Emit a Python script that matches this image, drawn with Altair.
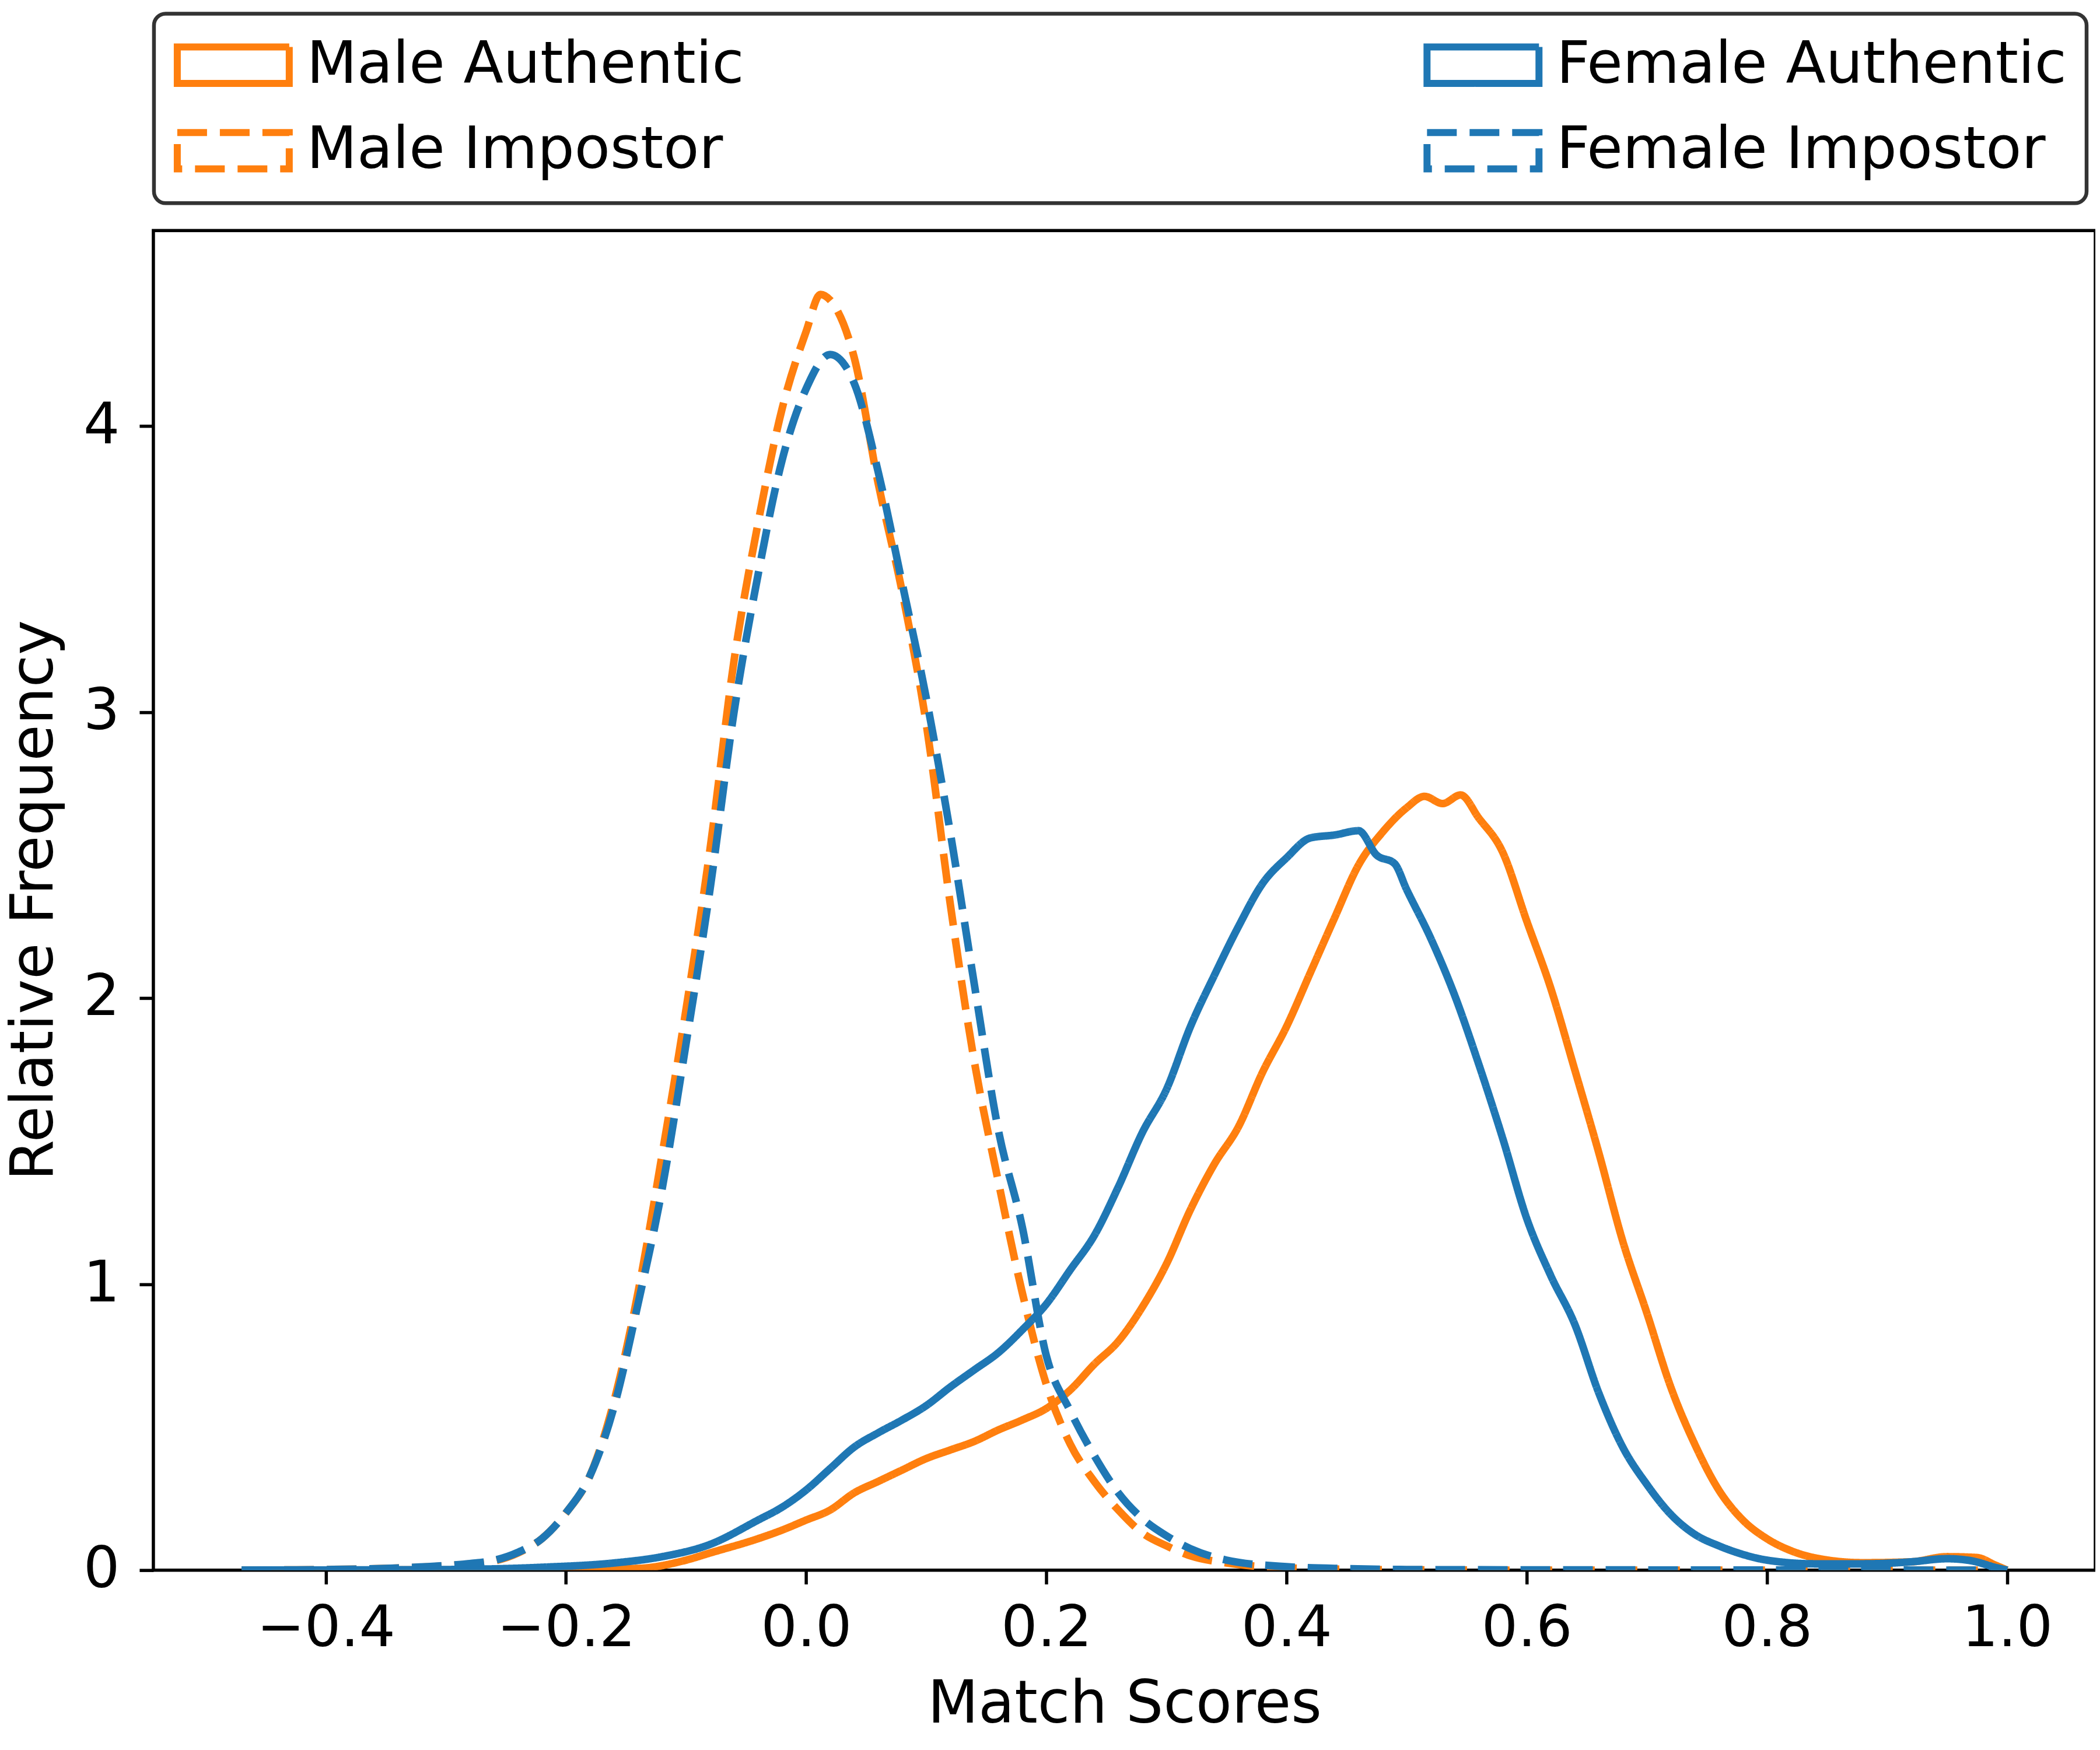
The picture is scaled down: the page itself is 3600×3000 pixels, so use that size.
import altair as alt
import pandas as pd

# ---- data (x = match score, y = relative frequency) ----
male_auth_x = [-0.47, -0.20, -0.14, -0.10, -0.08, -0.04, -0.02, 0.00, 0.02, 0.04, 0.06, 0.08,
               0.10, 0.12, 0.14, 0.16, 0.18, 0.20, 0.22, 0.24, 0.26, 0.28, 0.30, 0.32, 0.34,
               0.36, 0.38, 0.40, 0.42, 0.44, 0.46, 0.48, 0.50, 0.515, 0.53, 0.545, 0.56, 0.58,
               0.60, 0.62, 0.64, 0.66, 0.68, 0.70, 0.72, 0.74, 0.76, 0.78, 0.80, 0.82, 0.84,
               0.88, 0.92, 0.95, 0.975, 0.99, 1.00]
male_auth_y = [0.0, 0.002, 0.006, 0.035, 0.06, 0.11, 0.14, 0.175, 0.21, 0.27, 0.31, 0.35,
               0.39, 0.42, 0.45, 0.49, 0.525, 0.565, 0.63, 0.72, 0.80, 0.92, 1.07, 1.26, 1.42,
               1.55, 1.74, 1.90, 2.09, 2.28, 2.465, 2.58, 2.665, 2.705, 2.68, 2.71, 2.63, 2.51,
               2.27, 2.035, 1.75, 1.46, 1.15, 0.90, 0.64, 0.44, 0.28, 0.175, 0.11, 0.068, 0.043,
               0.026, 0.029, 0.047, 0.044, 0.018, 0.0]

male_imp_x = [-0.47, -0.40, -0.35, -0.30, -0.28, -0.26, -0.24, -0.22, -0.20, -0.18, -0.16, -0.14,
              -0.12, -0.10, -0.08, -0.06, -0.04, -0.02, 0.00, 0.012, 0.02, 0.04, 0.06, 0.08,
              0.10, 0.12, 0.14, 0.16, 0.18, 0.20, 0.22, 0.24, 0.26, 0.28, 0.30, 0.32, 0.35,
              0.40, 0.45, 0.50, 0.60, 1.00]
male_imp_y = [0.0, 0.002, 0.006, 0.015, 0.022, 0.032, 0.06, 0.11, 0.20, 0.33, 0.59, 0.97,
              1.45, 1.96, 2.52, 3.18, 3.66, 4.06, 4.33, 4.46, 4.44, 4.24, 3.80, 3.42,
              2.96, 2.33, 1.78, 1.36, 0.97, 0.65, 0.44, 0.31, 0.21, 0.13, 0.085, 0.05, 0.025,
              0.008, 0.003, 0.001, 0.0, 0.0]

fem_auth_x = [-0.47, -0.30, -0.22, -0.16, -0.12, -0.08, -0.04, -0.02, 0.00, 0.02, 0.04, 0.06,
              0.08, 0.10, 0.12, 0.14, 0.16, 0.18, 0.20, 0.22, 0.24, 0.26, 0.28, 0.30, 0.32,
              0.34, 0.36, 0.38, 0.40, 0.42, 0.44, 0.46, 0.475, 0.49, 0.50, 0.52, 0.54, 0.56,
              0.58, 0.60, 0.62, 0.64, 0.66, 0.68, 0.70, 0.72, 0.74, 0.76, 0.78, 0.80, 0.84,
              0.88, 0.92, 0.95, 0.97, 0.99, 1.00]
fem_auth_y = [0.0, 0.002, 0.01, 0.025, 0.047, 0.09, 0.175, 0.22, 0.28, 0.355, 0.43, 0.48,
              0.525, 0.575, 0.64, 0.70, 0.76, 0.84, 0.93, 1.05, 1.17, 1.34, 1.53, 1.68, 1.90,
              2.08, 2.25, 2.40, 2.49, 2.56, 2.57, 2.585, 2.50, 2.47, 2.38, 2.21, 2.01, 1.77,
              1.51, 1.23, 1.03, 0.86, 0.62, 0.43, 0.30, 0.195, 0.125, 0.085, 0.055, 0.035, 0.022,
              0.022, 0.029, 0.04, 0.033, 0.01, 0.0]

fem_imp_x = [-0.47, -0.40, -0.35, -0.30, -0.28, -0.26, -0.24, -0.22, -0.20, -0.18, -0.16, -0.14,
             -0.12, -0.10, -0.08, -0.06, -0.04, -0.02, 0.00, 0.02, 0.04, 0.06, 0.08, 0.10,
             0.12, 0.14, 0.16, 0.18, 0.20, 0.22, 0.24, 0.26, 0.28, 0.30, 0.32, 0.35, 0.40,
             0.45, 0.50, 0.60, 1.00]
fem_imp_y = [0.0, 0.002, 0.006, 0.016, 0.023, 0.034, 0.062, 0.11, 0.20, 0.33, 0.57, 0.93,
             1.33, 1.84, 2.38, 3.00, 3.48, 3.88, 4.13, 4.25, 4.15, 3.84, 3.45, 3.05,
             2.58, 2.05, 1.54, 1.20, 0.75, 0.556, 0.40, 0.27, 0.18, 0.12, 0.075, 0.035, 0.012,
             0.005, 0.002, 0.001, 0.0]

# legend order (legend grid fills column by column: 2 columns x 2 rows)
series_names = ["Male Authentic", "Male Impostor", "Female Authentic", "Female Impostor"]
series_colors = ["#ff7f0e", "#ff7f0e", "#1f77b4", "#1f77b4"]
series_dashes = [[1, 0], [51, 22], [1, 0], [51, 22]]

x_ticks = [-0.4, -0.2, 0.0, 0.2, 0.4, 0.6, 0.8, 1.0]
y_ticks = [0, 1, 2, 3, 4]

# drawing order: male first, female on top
rows = []
for name, xs, ys in [("Male Authentic", male_auth_x, male_auth_y),
                     ("Male Impostor", male_imp_x, male_imp_y),
                     ("Female Authentic", fem_auth_x, fem_auth_y),
                     ("Female Impostor", fem_imp_x, fem_imp_y)]:
    for xv, yv in zip(xs, ys):
        rows.append({"series": name, "score": xv, "freq": yv})
df = pd.DataFrame(rows)

FONT = "DejaVu Sans"
FS_TICK = 98
FS_TITLE = 101
FS_LEG = 100

legend = alt.Legend(
    title=None,
    orient="none",
    legendX=1,
    legendY=-372,
    columns=2,
    columnPadding=1147,
    rowPadding=35,
    padding=34,
    # wide rectangle: symbol unit r = sqrt(size)/2 = 48px -> 192px x 62px box
    symbolType="M-1,-0.65H3V0.65H-1Z",
    symbolSize=9216,
    symbolStrokeWidth=12,
    labelFont=FONT,
    labelFontSize=FS_LEG,
    labelColor="black",
    labelOffset=120,
    labelLimit=3000,
    strokeColor="#333333",
    fillColor="white",
    cornerRadius=20,
)

chart = alt.Chart(df).mark_line(strokeWidth=13, interpolate="monotone", clip=True).encode(
    x=alt.X("score:Q",
            scale=alt.Scale(domain=[-0.5435, 1.0735], nice=False, zero=False),
            axis=alt.Axis(values=x_ticks, format=".1f", title="Match Scores",
                          labelPadding=29, labelFlush=False, labelLimit=2000,
                          titleBaseline="alphabetic", titleY=261)),
    y=alt.Y("freq:Q",
            scale=alt.Scale(domain=[0, 4.683], nice=False, zero=True),
            axis=alt.Axis(values=y_ticks, format="d", title="Relative Frequency",
                          labelPadding=34, labelFlush=False, labelLimit=2000,
                          titleBaseline="alphabetic", titleAngle=270,
                          titleX=-173, titleY=1148)),
    color=alt.Color("series:N",
                    scale=alt.Scale(domain=series_names, range=series_colors),
                    legend=legend),
    strokeDash=alt.StrokeDash("series:N",
                              scale=alt.Scale(domain=series_names, range=series_dashes),
                              legend=legend),
    order=alt.Order("score:Q"),
).properties(
    width=3330,
    height=2297,
    autosize=alt.AutoSizeParams(type="none"),
    padding={"left": 255, "top": 387, "right": 0, "bottom": 300},
    background="white",
).configure_view(
    stroke="black",
    strokeWidth=5.5,
).configure_axis(
    domain=False,
    grid=False,
    tickColor="black",
    tickWidth=5.5,
    tickSize=24,
    labelFont=FONT,
    labelFontSize=FS_TICK,
    labelColor="black",
    titleFont=FONT,
    titleFontSize=FS_TITLE,
    titleFontWeight="normal",
    titleColor="black",
).configure_legend(
    strokeWidth=6.5,
)

chart.save("out.html", embed_options={"renderer": "svg", "actions": False})
